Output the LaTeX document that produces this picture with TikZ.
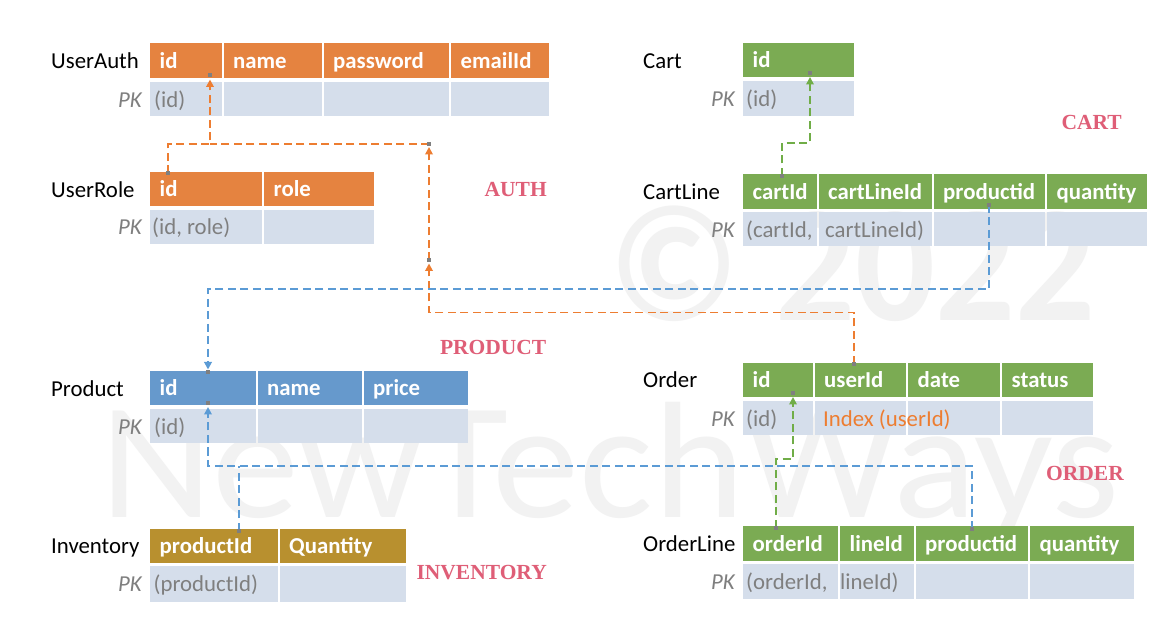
\documentclass[tikz,border=0pt]{standalone}
\usepackage{fontspec}
\usepackage{graphicx}
\setmainfont{Carlito}
\newfontfamily\stencilfont{Liberation Serif}
\usetikzlibrary{arrows.meta}
\definecolor{hOr}{HTML}{E58340}
\definecolor{hGr}{HTML}{7BAB53}
\definecolor{hBl}{HTML}{6699CC}
\definecolor{hGd}{HTML}{B8902F}
\definecolor{bodyc}{HTML}{D5DEEB}
\definecolor{txtgray}{HTML}{7F7F7F}
\definecolor{areared}{HTML}{DF5E77}
\definecolor{wmgray}{HTML}{F2F2F2}
\definecolor{cOr}{HTML}{ED7D31}
\definecolor{cBl}{HTML}{5B9BD5}
\definecolor{cGr}{HTML}{70AD47}
\definecolor{dotgray}{HTML}{7F7F7F}
\newcommand\hcell[5]{\node[cellbox,fill=#2,anchor=north west,minimum width={(#4-#3)*1pt},minimum height={(\hB-\hA)*1pt}] (#1) at (#3,\hA) {};
\node[htext,anchor=base west] (#1-t) at ({#3+9.5},{(\hA+\hB)/2+7.5}) {#5};}
\newcommand\bcell[3]{\node[cellbox,fill=bodyc,anchor=north west,minimum width={(#3-#2)*1pt},minimum height={(\bB-\bA)*1pt}] (#1) at (#2,\bA) {};}
\newcommand\btxt[4][txtgray]{\node[btext,text=#1,anchor=base west] (#2) at (#3,{(\bA+\bB)/2+8}) {#4};}
\newcommand\tlabel[3]{\node[tname,anchor=base west] (#1) at (#2,{(\hA+\hB)/2+8}) {#3};}
\newcommand\pklabel[2]{\node[pktext,anchor=base east] (#1) at (#2,{(\bA+\bB)/2+8}) {PK};}
\begin{document}
\begin{tikzpicture}[x=1pt,y=-1pt,
  cellbox/.style={inner sep=0pt,outer sep=0pt,draw=none},
  htext/.style={inner sep=0pt,text=white,font=\fontsize{22.8}{27}\selectfont\bfseries},
  btext/.style={inner sep=0pt,font=\fontsize{22.8}{27}\selectfont},
  pktext/.style={inner sep=0pt,text=txtgray,font=\fontsize{22.8}{27}\selectfont\itshape},
  tname/.style={inner sep=0pt,text=black,font=\fontsize{22.8}{27}\selectfont},
  arealabel/.style={inner sep=0pt,text=areared,font=\fontsize{21.5}{26}\selectfont\stencilfont\bfseries},
  wm/.style={inner sep=0pt,text=wmgray},
  conn/.style={line width=1.8pt,dash pattern=on 8pt off 4.5pt},
  arrowtip/.style={-{Triangle[length=7.5pt,width=7.5pt]}},
  cdot/.style={fill=dotgray,inner sep=0pt,minimum size=4pt,draw=none}
]
\fill[white] (0,0) rectangle (1171,628);
\path[use as bounding box] (0,0) rectangle (1171,628);

% watermark
\node[wm,anchor=base west,font=\fontsize{166}{166}\selectfont] (wm2) at (100,517) {\scalebox{1.05}[1]{NewTechWays}};
\node[wm,anchor=base west,font=\fontsize{166}{166}\selectfont\bfseries] (wm1) at (608,321) {\scalebox{0.95}[1]{© 2022}};

% UserAuth
\def\hA{43}\def\hB{78.5}\def\bA{82}\def\bB{116.5}
\hcell{ua-id}{hOr}{150}{221.5}{id}
\hcell{ua-name}{hOr}{223.5}{322}{name}
\hcell{ua-pw}{hOr}{323.5}{449}{password}
\hcell{ua-em}{hOr}{451}{549}{emailId}
\bcell{ua-b1}{150}{221.5}\bcell{ua-b2}{223.5}{322}\bcell{ua-b3}{323.5}{449}\bcell{ua-b4}{451}{549}
\tlabel{ua-n}{51}{UserAuth}
\pklabel{ua-pk}{142}
\btxt{ua-bt}{154}{(id)}

% UserRole
\def\hA{172}\def\hB{206.5}\def\bA{210}\def\bB{244}
\hcell{ur-id}{hOr}{150}{262}{id}
\hcell{ur-role}{hOr}{264}{374}{role}
\bcell{ur-b1}{150}{262}\bcell{ur-b2}{264}{374}
\tlabel{ur-n}{51}{UserRole}
\pklabel{ur-pk}{142}
\btxt{ur-bt}{152}{(id, role)}

% Cart
\def\hA{43.5}\def\hB{77.5}\def\bA{81.5}\def\bB{116.5}
\hcell{ct-id}{hGr}{743}{853.5}{id}
\bcell{ct-b1}{743}{853.5}
\tlabel{ct-n}{643}{Cart}
\pklabel{ct-pk}{735}
\btxt{ct-bt}{746}{(id)}

% CartLine
\def\hA{174.5}\def\hB{209}\def\bA{212.5}\def\bB{246.5}
\hcell{cl-cart}{hGr}{743}{816.5}{cartId}
\hcell{cl-line}{hGr}{818.5}{931.5}{cartLineId}
\hcell{cl-prod}{hGr}{933.5}{1045}{productid}
\hcell{cl-qty}{hGr}{1047}{1147}{quantity}
\bcell{cl-b1}{743}{816.5}\bcell{cl-b2}{818.5}{931.5}\bcell{cl-b3}{933.5}{1045}\bcell{cl-b4}{1047}{1147}
\tlabel{cl-n}{643}{CartLine}
\pklabel{cl-pk}{735}
\btxt{cl-bt1}{746}{(cartId,}
\btxt{cl-bt2}{825}{cartLineId)}

% Product
\def\hA{371.5}\def\hB{405.5}\def\bA{409}\def\bB{443.5}
\hcell{pr-id}{hBl}{150}{255.5}{id}
\hcell{pr-name}{hBl}{257.5}{361.5}{name}
\hcell{pr-price}{hBl}{363.5}{468}{price}
\bcell{pr-b1}{150}{255.5}\bcell{pr-b2}{257.5}{361.5}\bcell{pr-b3}{363.5}{468}
\tlabel{pr-n}{51}{Product}
\pklabel{pr-pk}{142}
\btxt{pr-bt}{154}{(id)}

% Order
\def\hA{363}\def\hB{397}\def\bA{401}\def\bB{435.5}
\hcell{od-id}{hGr}{743}{812.5}{id}
\hcell{od-user}{hGr}{814.5}{906}{userId}
\hcell{od-date}{hGr}{908}{1000}{date}
\hcell{od-status}{hGr}{1002}{1093}{status}
\bcell{od-b1}{743}{812.5}\bcell{od-b2}{814.5}{906}\bcell{od-b3}{908}{1000}\bcell{od-b4}{1002}{1093}
\tlabel{od-n}{643}{Order}
\pklabel{od-pk}{735}
\btxt{od-bt1}{746}{(id)}
\btxt[cOr]{od-bt2}{823}{Index (userId)}

% Inventory
\def\hA{528.5}\def\hB{562.5}\def\bA{566}\def\bB{601.5}
\hcell{iv-prod}{hGd}{150}{277.5}{productId}
\hcell{iv-qty}{hGd}{279.5}{406}{Quantity}
\bcell{iv-b1}{150}{277.5}\bcell{iv-b2}{279.5}{406}
\tlabel{iv-n}{51}{Inventory}
\pklabel{iv-pk}{142}
\btxt{iv-bt}{153.5}{(productId)}

% OrderLine
\def\hA{526}\def\hB{561}\def\bA{564}\def\bB{599}
\hcell{ol-ord}{hGr}{743}{838}{orderId}
\hcell{ol-line}{hGr}{840}{913.5}{lineId}
\hcell{ol-prod}{hGr}{915.5}{1028}{productid}
\hcell{ol-qty}{hGr}{1030}{1134}{quantity}
\bcell{ol-b1}{743}{838}\bcell{ol-b2}{840}{913.5}\bcell{ol-b3}{915.5}{1028}\bcell{ol-b4}{1030}{1134}
\tlabel{ol-n}{643}{OrderLine}
\pklabel{ol-pk}{735}
\btxt{ol-bt1}{746}{(orderId,}
\btxt{ol-bt2}{840}{lineId)}

% area labels
\node[arealabel,anchor=base east] (lb-auth) at (547,196.5) {AUTH};
\node[arealabel,anchor=base east] (lb-cart) at (1122,130) {CART};
\node[arealabel,anchor=base east] (lb-prod) at (546.5,355) {PRODUCT};
\node[arealabel,anchor=base east] (lb-inv) at (547,579) {INVENTORY};
\node[arealabel,anchor=base east] (lb-ord) at (1124,480) {ORDER};

% connection points
\coordinate (c-ur) at (168,173.5);
\coordinate (c-ua) at (210,79.5);
\coordinate (s-ua) at (210,75.5);
\coordinate (j-auth) at (429,144);
\coordinate (j-mid) at (429,260.5);
\coordinate (c-oduser) at (854,364);
\coordinate (a-turn) at (854,312.5);
\coordinate (c-ct) at (810,77);
\coordinate (s-ct) at (810,73);
\coordinate (c-clcart) at (782,176);
\coordinate (g-turn) at (782,143);
\coordinate (c-clprod) at (989,205);
\coordinate (b1-turn) at (989,289);
\coordinate (c-prtop) at (208,369.5);
\coordinate (s-prtop) at (208,372.5);
\coordinate (c-prbot) at (208,407);
\coordinate (s-prbot) at (208,403);
\coordinate (c-olprod) at (972,529);
\coordinate (b2-turn) at (972,466);
\coordinate (c-iv) at (239,530.5);
\coordinate (j-inv) at (239,466);
\coordinate (c-olord) at (776,527.5);
\coordinate (g2-turn) at (793,459);
\coordinate (c-odid) at (793,397);
\coordinate (s-odid) at (793,393);

% connectors
\draw[conn,cOr,arrowtip] (c-ur) |- (c-ua |- j-auth) -- (c-ua);
\draw[conn,cOr] (j-auth) -- (c-ua |- j-auth);
\draw[conn,cOr,arrowtip] (j-mid) -- ([yshift=-3pt]j-auth);
\draw[conn,cOr,arrowtip] (c-oduser) -- (a-turn) -| ([yshift=-3pt]j-mid);
\draw[conn,cGr,arrowtip] (c-clcart) -- (g-turn) -| (c-ct);
\draw[conn,cBl,arrowtip] (c-clprod) -- (b1-turn) -| (c-prtop);
\draw[conn,cBl,arrowtip] (c-olprod) -- (b2-turn) -| (c-prbot);
\draw[conn,cBl] (c-iv) -- (j-inv);
\draw[conn,cGr,arrowtip] (c-olord) |- (g2-turn) -- (c-odid);

% connection dots
\node[cdot] (d1) at (c-ur) {};
\node[cdot] (d2) at (s-ua) {};
\node[cdot] (d3) at (j-auth) {};
\node[cdot] (d4) at (j-mid) {};
\node[cdot] (d5) at (c-oduser) {};
\node[cdot] (d6) at (s-ct) {};
\node[cdot] (d7) at (c-clcart) {};
\node[cdot] (d8) at (c-clprod) {};
\node[cdot] (d9) at (s-prtop) {};
\node[cdot] (d10) at (s-prbot) {};
\node[cdot] (d11) at (c-olprod) {};
\node[cdot] (d12) at (c-iv) {};
\node[cdot] (d13) at (c-olord) {};
\node[cdot] (d14) at (s-odid) {};
\end{tikzpicture}
\end{document}
